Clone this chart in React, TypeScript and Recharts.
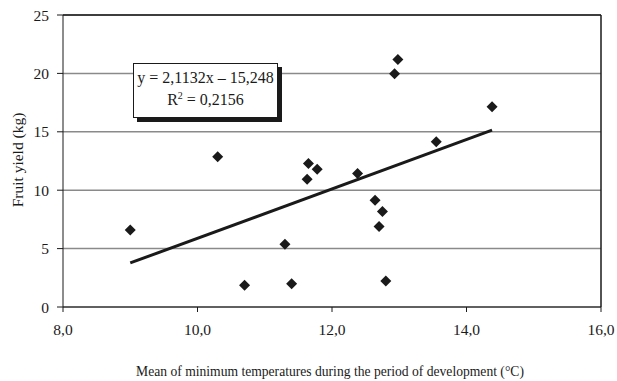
import {
  ScatterChart,
  Scatter,
  XAxis,
  YAxis,
  CartesianGrid,
  ReferenceLine,
  Label,
} from 'recharts'

// temperature (°C) vs fruit yield (kg)
const temps = [9.0, 10.3, 10.7, 11.3, 11.4, 11.63, 11.65, 11.78, 12.38, 12.64, 12.7, 12.75, 12.8, 12.93, 12.98, 13.55, 14.38]
const yields = [6.6, 12.86, 1.86, 5.37, 2.0, 10.94, 12.29, 11.8, 11.43, 9.14, 6.89, 8.17, 2.23, 19.97, 21.2, 14.14, 17.14]

// trend line ends as drawn
const trendX = [9.0, 14.38]
const trendY = [3.77, 15.14]

const xTicks = [8, 10, 12, 14, 16]
const yTicks = [0, 5, 10, 15, 20, 25]

const FONT = '"Liberation Serif", "Times New Roman", serif'
const INK = '#1a1a1a'

const points = temps.map((t, i) => ({ x: t, y: yields[i] }))
const trend = trendX.map((t, i) => ({ x: t, y: trendY[i] }))

const Diamond = (props: any) => {
  const { cx, cy } = props
  const r = 5.5
  return (
    <polygon
      points={`${cx},${cy - r} ${cx + r},${cy} ${cx},${cy + r} ${cx - r},${cy}`}
      fill={INK}
    />
  )
}

const fmt = (v: number) => v.toFixed(1).replace('.', ',')

const tickStyle = { fontSize: 15.5, fill: INK, fontFamily: FONT, style: { fontFamily: FONT } }

export default function App() {
  return (
    <div style={{ position: 'absolute', left: 0, top: 0, width: 617, height: 381, background: '#fff', fontFamily: FONT }}>
      <ScatterChart
        width={617}
        height={381}
        margin={{ top: 15, right: 16, bottom: 0, left: 0 }}
        style={{ fontFamily: FONT }}
      >
        <CartesianGrid horizontal vertical={false} stroke="#8a8a8a" strokeWidth={1.5} />
        <XAxis
          type="number"
          dataKey="x"
          domain={[8, 16]}
          ticks={xTicks}
          tickFormatter={fmt}
          height={74}
          stroke={INK}
          tickSize={5}
          tickMargin={12}
          tick={tickStyle}
        >
          <Label
            content={() => (
              <text x={330} y={376} textAnchor="middle" fontSize={13.6} fill={INK} style={{ fontFamily: FONT }}>
                Mean of minimum temperatures during the period of development (°C)
              </text>
            )}
          />
        </XAxis>
        <YAxis
          type="number"
          dataKey="y"
          domain={[0, 25]}
          ticks={yTicks}
          width={63}
          stroke={INK}
          tickSize={6}
          tickMargin={8}
          tick={tickStyle}
        >
          <Label
            content={() => (
              <text
                x={17}
                y={160}
                textAnchor="middle"
                dominantBaseline="central"
                transform="rotate(-90 17 160)"
                fontSize={15.5}
                fill={INK}
                style={{ fontFamily: FONT }}
              >
                Fruit yield (kg)
              </text>
            )}
          />
        </YAxis>
        <ReferenceLine y={25} stroke={INK} strokeWidth={1.5} />
        <ReferenceLine x={16} stroke={INK} strokeWidth={1.5} />
        <Scatter
          data={trend}
          line={{ stroke: INK, strokeWidth: 3 }}
          shape={() => <g />}
          isAnimationActive={false}
        />
        <Scatter data={points} shape={Diamond} isAnimationActive={false} />
      </ScatterChart>
      <div
        style={{
          position: 'absolute',
          left: 133,
          top: 63,
          width: 143,
          height: 50,
          border: `1px solid ${INK}`,
          background: '#fff',
          boxShadow: `4px 4px 0 ${INK}`,
          fontSize: 16,
          lineHeight: '22px',
          textAlign: 'center',
          color: INK,
          paddingTop: 3,
          boxSizing: 'content-box',
        }}
      >
        <div style={{ whiteSpace: 'nowrap' }}>y = 2,1132x – 15,248</div>
        <div>
          R<sup style={{ fontSize: 10, lineHeight: 0 }}>2</sup> = 0,2156
        </div>
      </div>
    </div>
  )
}
